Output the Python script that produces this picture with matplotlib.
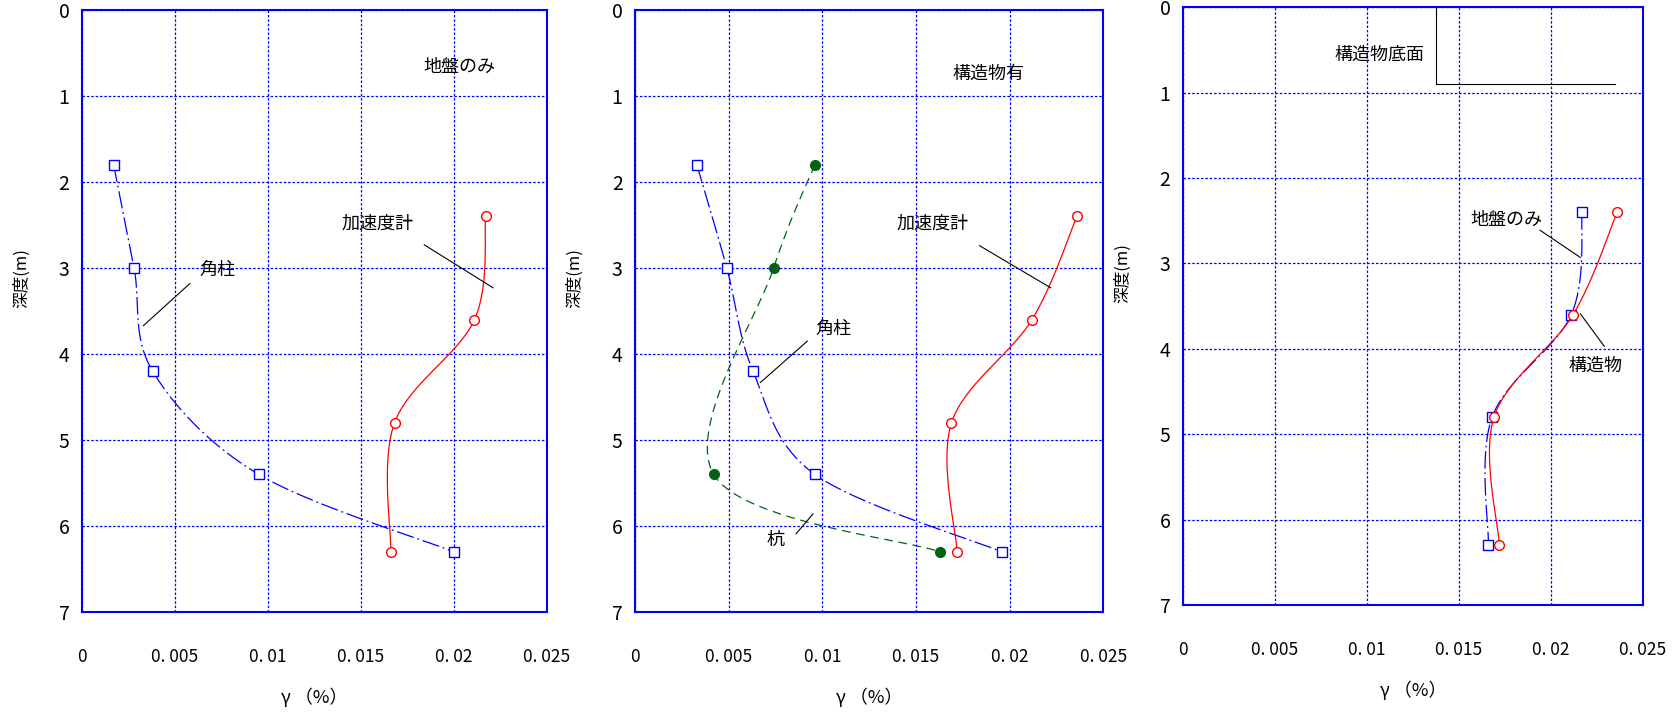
import numpy as np
import matplotlib.pyplot as plt

plt.rcParams['font.family'] = ['Noto Sans CJK JP', 'DejaVu Sans']

# 深度 (m)
depth_col = [1.8, 3.0, 4.2, 5.4, 6.3]
depth_acc = [2.4, 3.6, 4.8, 6.3]
depth_pile = [1.8, 3.0, 5.4, 6.3]

# せん断ひずみ γ (%)
col_ground = [0.0017, 0.0028, 0.0038, 0.0095, 0.0200]   # 角柱（地盤のみ）
col_struct = [0.0033, 0.0049, 0.0063, 0.0096, 0.0196]   # 角柱（構造物有）
pile_struct = [0.0096, 0.0074, 0.0042, 0.0163]          # 杭（構造物有）
acc_ground = [0.0217, 0.0211, 0.0168, 0.0166]           # 加速度計（地盤のみ）
acc_struct = [0.0236, 0.0212, 0.0169, 0.0172]           # 加速度計（構造物有）

base_depth = 0.9   # 構造物底面

xticks = [0, 0.005, 0.01, 0.015, 0.02, 0.025]
xticklabels = ['0', '0. 005', '0. 01', '0. 015', '0. 02', '0. 025']
yticks = [0, 1, 2, 3, 4, 5, 6, 7]

BLUE = '#0000ff'
RED = '#ff0000'
GREEN = '#006414'


def smooth(x, y, n=40):
    # Catmull-Rom で点間をなめらかにつなぐ
    p = np.column_stack([x, y]).astype(float)
    p = np.vstack([p[0], p, p[-1]])
    t = np.linspace(0, 1, n)[:, None]
    segs = []
    for i in range(1, len(p) - 2):
        p0, p1, p2, p3 = p[i - 1], p[i], p[i + 1], p[i + 2]
        segs.append(0.5 * (2 * p1 + (-p0 + p2) * t
                           + (2 * p0 - 5 * p1 + 4 * p2 - p3) * t ** 2
                           + (-p0 + 3 * p1 - 3 * p2 + p3) * t ** 3))
    s = np.vstack(segs)
    return s[:, 0], s[:, 1]


def series(ax, x, y, color, marker, ls, filled=False):
    sx, sy = smooth(x, y)
    ax.plot(sx, sy, color=color, lw=0.9, linestyle=ls)
    ax.plot(x, y, linestyle='none', marker=marker, markersize=7,
            markerfacecolor=color if filled else 'white',
            markeredgecolor=color, markeredgewidth=1.0)


def label(ax, text, pos, line=None):
    ax.text(pos[0], pos[1], text, ha='center', va='center', fontsize=13)
    if line is not None:
        ax.plot(line[0], line[1], color='black', lw=0.8)


def setup(ax):
    ax.set_xlim(0, 0.025)
    ax.set_ylim(7, 0)
    ax.set_xticks(xticks)
    ax.set_xticklabels(xticklabels)
    ax.set_yticks(yticks)
    ax.tick_params(axis='x', length=0, pad=26, labelsize=12.5)
    ax.tick_params(axis='y', length=0, pad=9, labelsize=14)
    ax.grid(True, color=BLUE, linestyle=(0, (2, 1.5)), lw=0.9)
    for s in ax.spines.values():
        s.set_color(BLUE)
        s.set_linewidth(1.5)
    ax.set_xlabel('γ （%）', fontsize=13)
    ax.xaxis.set_label_coords(0.5, -0.126)
    ax.set_ylabel('深度(m)', fontsize=12)
    ax.yaxis.set_label_coords(-0.112, 0.555)


fig = plt.figure(figsize=(16.77, 7.12), dpi=100)
ax1 = fig.add_axes([0.0489, 0.1404, 0.2773, 0.8455])
ax2 = fig.add_axes([0.3787, 0.1404, 0.2791, 0.8455])
ax3 = fig.add_axes([0.7054, 0.1500, 0.2743, 0.8399])

col_dash = (0, (14, 3, 1.5, 3))
pile_dash = (0, (7, 4.5))

# 地盤のみ
setup(ax1)
series(ax1, col_ground, depth_col, BLUE, 's', col_dash)
series(ax1, acc_ground, depth_acc, RED, 'o', '-')
label(ax1, '地盤のみ', (0.0203, 0.66))
label(ax1, '加速度計', (0.0159, 2.48), ([0.0184, 0.0221], [2.73, 3.23]))
label(ax1, '角柱', (0.0073, 3.02), ([0.0058, 0.0033], [3.18, 3.67]))

# 構造物有
setup(ax2)
series(ax2, col_struct, depth_col, BLUE, 's', col_dash)
series(ax2, pile_struct, depth_pile, GREEN, 'o', pile_dash, filled=True)
series(ax2, acc_struct, depth_acc, RED, 'o', '-')
label(ax2, '構造物有', (0.0189, 0.74))
label(ax2, '加速度計', (0.0159, 2.48), ([0.0184, 0.0222], [2.74, 3.23]))
label(ax2, '角柱', (0.0106, 3.71), ([0.0092, 0.0067], [3.85, 4.33]))
label(ax2, '杭', (0.0075, 6.16), ([0.0086, 0.0095], [6.09, 5.86]))

# 加速度計の比較
setup(ax3)
series(ax3, acc_ground, depth_acc, BLUE, 's', col_dash)
series(ax3, acc_struct, depth_acc, RED, 'o', '-')
label(ax3, '構造物底面', (0.0107, 0.56),
      ([0.01375, 0.01375, 0.0235], [0, base_depth, base_depth]))
label(ax3, '地盤のみ', (0.0176, 2.49), ([0.0194, 0.0216], [2.61, 2.93]))
label(ax3, '構造物', (0.0224, 4.2), ([0.0229, 0.0216], [3.97, 3.59]))

fig.savefig('out.png', dpi=100)
